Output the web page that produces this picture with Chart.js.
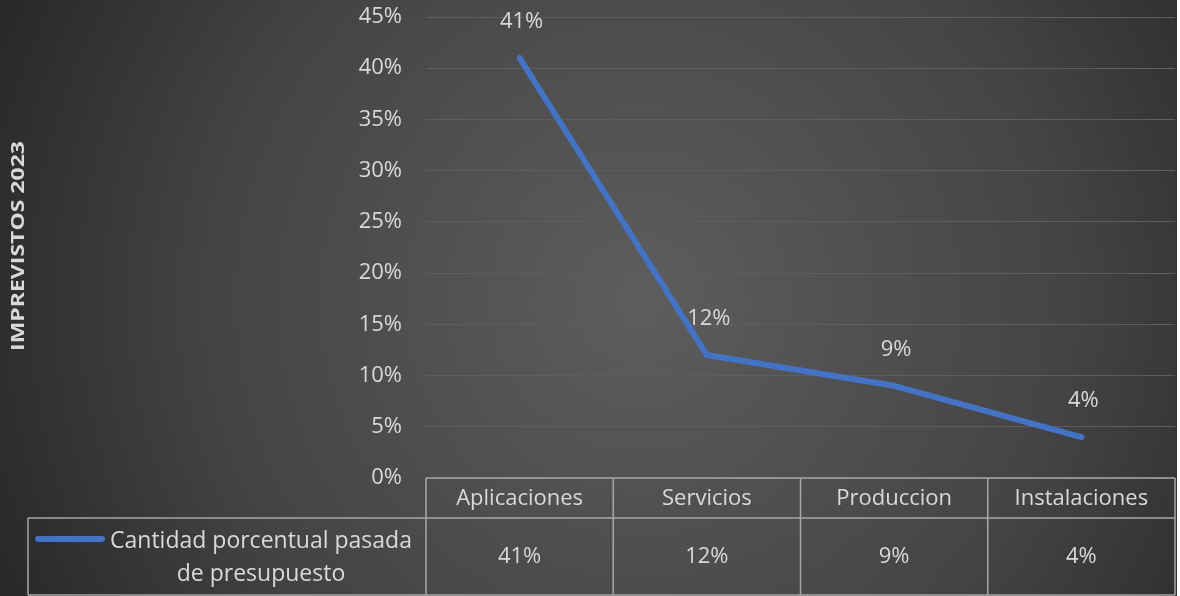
<!DOCTYPE html>
<html>
<head>
<meta charset="utf-8">
<script src="https://cdn.jsdelivr.net/npm/chart.js@4.4.0/dist/chart.umd.min.js"></script>
<style>
  html, body { margin: 0; padding: 0; background: #ffffff; }
  #wrap { width: 1180px; height: 596px; position: relative; }
</style>
</head>
<body>
<div id="wrap"><canvas id="chart" width="1180" height="596"></canvas></div>
<script>
// --- data ---
let categories = ['Aplicaciones', 'Servicios', 'Produccion', 'Instalaciones'];
let values = [41, 12, 9, 4];
let seriesName = ['Cantidad porcentual pasada', 'de presupuesto'];
let axisTitle = 'IMPREVISTOS 2023';

let textColor = '#d9d9d9';
let tableColor = '#a6a6a6';
let lineColor = '#4472c4';
let fontFamily = '"Open Sans", sans-serif';
let fontSize = 22;

// background gradient + white strip on the right
let bgPlugin = {
  id: 'bg',
  beforeDraw(chart) {
    let ctx = chart.ctx;
    ctx.save();
    let g = ctx.createRadialGradient(640, 300, 20, 640, 300, 760);
    g.addColorStop(0, '#5c5c5c');
    g.addColorStop(0.55, '#444444');
    g.addColorStop(1, '#222222');
    ctx.fillStyle = g;
    ctx.fillRect(0, 0, 1177, chart.height);
    ctx.fillStyle = '#ffffff';
    ctx.fillRect(1177, 0, 3, chart.height);
    ctx.restore();
  }
};

// data table under the plot, with legend key
let tablePlugin = {
  id: 'datatable',
  afterDraw(chart) {
    let ctx = chart.ctx;
    let x = chart.scales.x;
    let area = chart.chartArea;
    let top = area.bottom;
    let mid = top + 40;
    let bottom = 595;
    let legendLeft = 28;
    let step = x.getPixelForValue(1) - x.getPixelForValue(0);
    ctx.save();
    ctx.strokeStyle = tableColor;
    ctx.lineWidth = 1.5;
    ctx.beginPath();
    ctx.moveTo(area.left, top); ctx.lineTo(area.right, top);
    ctx.moveTo(legendLeft, mid); ctx.lineTo(area.right, mid);
    ctx.moveTo(legendLeft, bottom); ctx.lineTo(area.right, bottom);
    ctx.moveTo(legendLeft, mid); ctx.lineTo(legendLeft, bottom);
    for (let i = 0; i <= categories.length; i++) {
      let px = x.getPixelForValue(i) - step / 2;
      if (i === categories.length) px = area.right;
      ctx.moveTo(px, top); ctx.lineTo(px, bottom);
    }
    ctx.stroke();

    ctx.fillStyle = textColor;
    ctx.font = fontSize + 'px ' + fontFamily;
    ctx.textAlign = 'center';
    ctx.textBaseline = 'middle';
    categories.forEach((c, i) => {
      let px = x.getPixelForValue(i);
      ctx.fillText(c, px, (top + mid) / 2 + 1);
      ctx.fillText(values[i] + '%', px, (mid + bottom) / 2);
    });

    // legend key
    ctx.strokeStyle = lineColor;
    ctx.lineWidth = 6;
    ctx.lineCap = 'round';
    ctx.beginPath();
    ctx.moveTo(38, 539); ctx.lineTo(102, 539);
    ctx.stroke();
    ctx.font = '23px ' + fontFamily;
    ctx.fillText(seriesName[0], 261, 541);
    ctx.fillText(seriesName[1], 261, 574);

    // rotated axis title
    ctx.translate(19, 246);
    ctx.rotate(-Math.PI / 2);
    ctx.scale(1, 0.75);
    ctx.font = 'bold 23px "Open Sans", sans-serif';
    ctx.fillText(axisTitle, 0, 0);
    ctx.restore();
  }
};

// value labels above points
let labelPlugin = {
  id: 'pointlabels',
  afterDatasetsDraw(chart) {
    let ctx = chart.ctx;
    let meta = chart.getDatasetMeta(0);
    ctx.save();
    ctx.fillStyle = textColor;
    ctx.font = fontSize + 'px ' + fontFamily;
    ctx.textAlign = 'center';
    ctx.textBaseline = 'middle';
    meta.data.forEach((pt, i) => {
      ctx.fillText(values[i] + '%', pt.x + 2, pt.y - 36);
    });
    ctx.restore();
  }
};

new Chart(document.getElementById('chart'), {
  type: 'line',
  data: {
    labels: categories,
    datasets: [{
      label: seriesName.join(' '),
      data: values,
      borderColor: lineColor,
      borderWidth: 6,
      borderCapStyle: 'round',
      borderJoinStyle: 'round',
      pointRadius: 0,
      tension: 0
    }]
  },
  options: {
    responsive: false,
    animation: false,
    layout: { padding: { top: 17, right: 5, left: 0, bottom: 0 } },
    plugins: { legend: { display: false }, tooltip: { enabled: false } },
    scales: {
      x: {
        offset: true,
        grid: { display: false },
        border: { display: false },
        ticks: { display: false },
        afterFit(scale) { scale.height = 118; scale.paddingLeft = 0; scale.paddingRight = 0; }
      },
      y: {
        min: 0,
        max: 45,
        ticks: {
          stepSize: 5,
          color: textColor,
          padding: 24,
          font: { family: fontFamily, size: fontSize },
          callback: v => v + '%'
        },
        grid: { color: '#5e5e5e', lineWidth: 1, drawTicks: false },
        border: { display: false },
        afterFit(scale) { scale.width = 426; scale.paddingTop = 0; scale.paddingBottom = 0; }
      }
    }
  },
  plugins: [bgPlugin, tablePlugin, labelPlugin]
});
</script>
</body>
</html>
